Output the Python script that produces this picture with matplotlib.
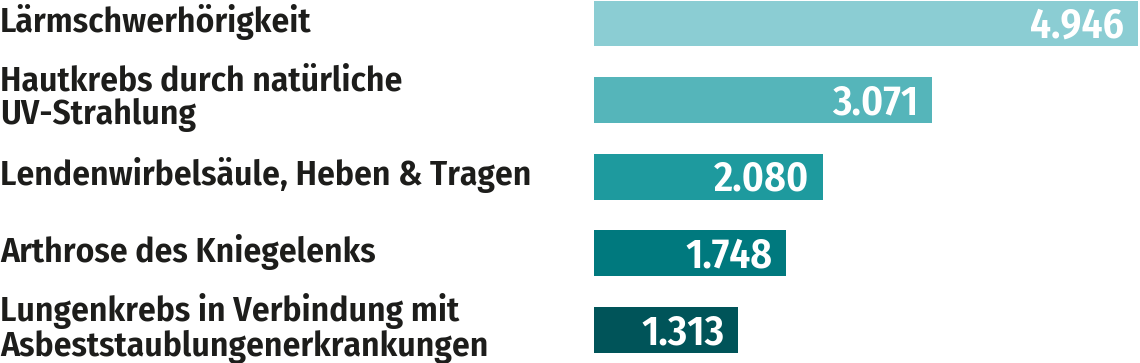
import matplotlib
matplotlib.use('Agg')
import matplotlib.pyplot as plt
from matplotlib.transforms import blended_transform_factory

# data
labels = ['Lärmschwerhörigkeit',
          'Hautkrebs durch natürliche\nUV-Strahlung',
          'Lendenwirbelsäule, Heben & Tragen',
          'Arthrose des Kniegelenks',
          'Lungenkrebs in Verbindung mit\nAsbeststaublungenerkrankungen']
values = [4946, 3071, 2080, 1748, 1313]
value_text = ['4.946', '3.071', '2.080', '1.748', '1.313']
colours = ['#8bcdd3', '#55b5ba', '#1e9a9e', '#00797e', '#005459']

plt.rcParams['font.family'] = ['Fira Sans Condensed', 'DejaVu Sans']
plt.rcParams['font.stretch'] = 'condensed'

W, H = 1140, 363
fig = plt.figure(figsize=(W / 100, H / 100), dpi=100)
left_px = 594
ax = fig.add_axes([left_px / W, 0, (W - left_px) / W, 1])

pos = list(range(len(values)))
ax.barh(pos, values, height=0.6, color=colours)
ax.set_xlim(0, values[0] * (W - left_px) / (1138 - left_px))
ax.set_ylim(4 + 33 / 76.6, -23.5 / 76.6)
ax.axis('off')

# value labels inside the bars
for p, v, t in zip(pos, values, value_text):
    ax.annotate(t, xy=(v, p), xytext=(-10, -2), textcoords='offset points',
                ha='right', va='center', color='white', fontsize=30,
                fontweight='semibold')

# category labels at the left edge of the figure
trans = blended_transform_factory(fig.transFigure, ax.transData)
for p, lab in zip(pos, labels):
    ax.text(0.0, p - 0.02, lab, transform=trans, ha='left', va='center',
            fontsize=25.5, fontweight='semibold', color='#1d1d1b',
            linespacing=1.0, clip_on=False)

fig.savefig('out.png', dpi=100)
